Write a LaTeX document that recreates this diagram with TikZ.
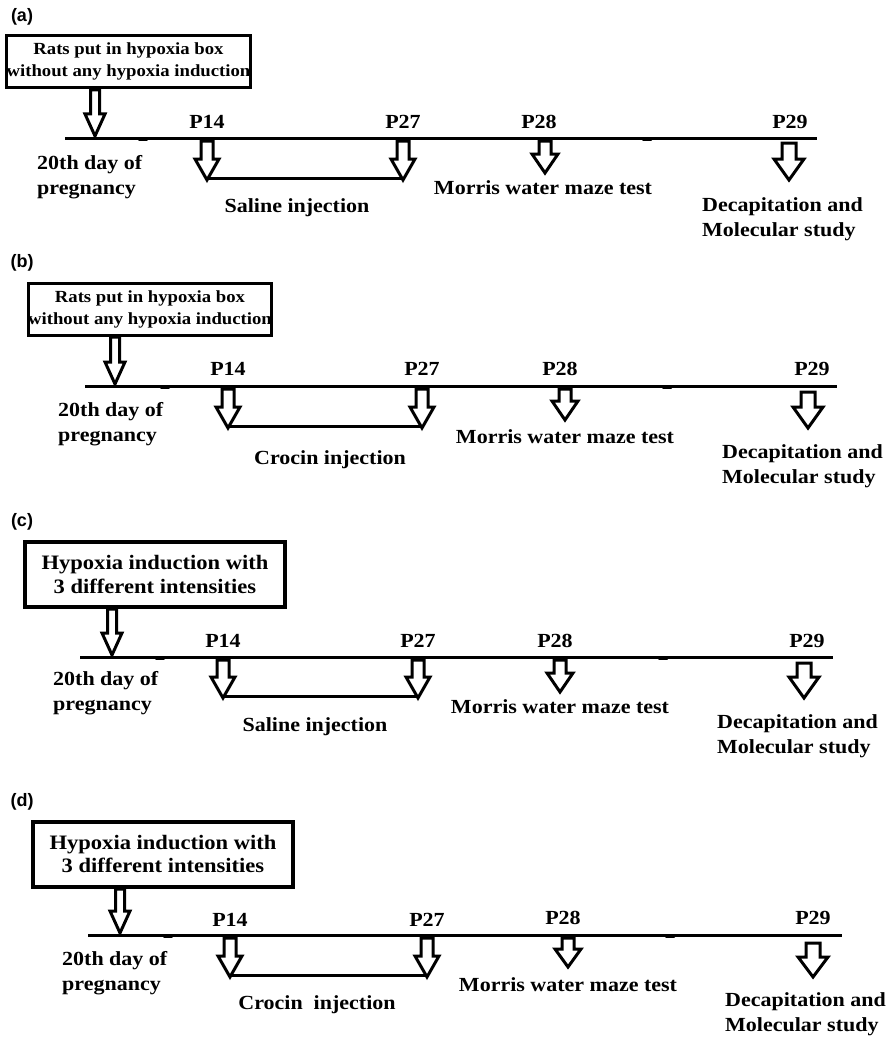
\documentclass[tikz,border=0pt]{standalone}
\usepackage{fontspec}
\setmainfont{Liberation Serif}[FakeStretch=1.1]
\newfontfamily\labfont{Liberation Sans}
\newcommand{\harrow}[6]{%
  \draw[hollow] (#1-#4,#2) -- (#1+#4,#2) -- (#1+#4,#3-#6) -- (#1+#5,#3-#6)
    -- (#1,#3) -- (#1-#5,#3-#6) -- (#1-#4,#3-#6) -- cycle;}
\tikzset{
  tl/.style={line width=3pt},
  tick/.style={line width=2pt, line cap=round},
  hollow/.style={line width=3pt, fill=white, line join=miter},
  txt/.style={inner sep=0pt, font=\fontsize{20}{25}\selectfont\bfseries},
  ltxt/.style={txt, align=left, anchor=west},
  panlab/.style={inner sep=0pt, font=\labfont\fontsize{18}{20}\selectfont\bfseries},
  boxab/.style={draw, line width=3pt, inner sep=0pt, align=center,
    minimum width=236pt, minimum height=52pt,
    font=\fontsize{17}{22}\selectfont\bfseries},
  boxcd/.style={draw, line width=4pt, inner sep=0pt, align=center,
    minimum width=260pt, minimum height=65pt,
    font=\fontsize{20.5}{23.5}\selectfont\bfseries},
}
\begin{document}
\begin{tikzpicture}[x=1pt,y=-1pt]
\useasboundingbox (0,0) rectangle (889,1038);
% ---------------- (a)
\node[panlab] (la) at (22,17) {(a)};
\node[boxab] (ba) at (128.5,61.5) {Rats put in hypoxia box\\without any hypoxia induction};
\draw[tl] (65,138) -- (817,138);
\draw[tick] (139,140) -- (147,140);
\draw[tick] (643,140) -- (651,140);
\harrow{95}{90}{136}{4.5}{10}{22}
\node[txt] (a14) at (207,122) {P14};
\node[txt] (a27) at (403,122) {P27};
\node[txt] (a28) at (539,122) {P28};
\node[txt] (a29) at (790,122) {P29};
\harrow{207}{141}{180}{6}{12}{21}
\harrow{403}{141}{180}{6}{12}{21}
\draw[tl] (207,178.5) -- (403,178.5);
\harrow{545}{141}{173}{6}{13}{19}
\harrow{789}{143}{180}{7}{15}{21}
\node[ltxt] (a20) at (37,177.5) {20th day of\\pregnancy};
\node[txt] (ainj) at (297,208) {Saline injection};
\node[txt] (amwm) at (543,188) {Morris water maze test};
\node[ltxt] (adec) at (702,219.5) {Decapitation and\\Molecular study};
% ---------------- (b)
\node[panlab] (lb) at (22,263) {(b)};
\node[boxab] (bb) at (150,309) {Rats put in hypoxia box\\without any hypoxia induction};
\draw[tl] (85,386) -- (837,386);
\draw[tick] (161,388) -- (169,388);
\draw[tick] (663,388) -- (671,388);
\harrow{115}{337}{384}{4.5}{10}{22}
\node[txt] (b14) at (228,369) {P14};
\node[txt] (b27) at (422,369) {P27};
\node[txt] (b28) at (560,369) {P28};
\node[txt] (b29) at (812,369) {P29};
\harrow{228}{389}{428}{6}{12}{21}
\harrow{422}{389}{428}{6}{12}{21}
\draw[tl] (228,426.5) -- (422,426.5);
\harrow{565}{389}{420}{6}{13}{19}
\harrow{808}{392}{428}{7}{15}{21}
\node[ltxt] (b20) at (58,424.5) {20th day of\\pregnancy};
\node[txt] (binj) at (330,460) {Crocin injection};
\node[txt] (bmwm) at (565,437) {Morris water maze test};
\node[ltxt] (bdec) at (722,466) {Decapitation and\\Molecular study};
% ---------------- (c)
\node[panlab] (lc) at (22,522) {(c)};
\node[boxcd] (bc) at (155,574.5) {Hypoxia induction with\\3 different intensities};
\draw[tl] (80,657) -- (833,657);
\draw[tick] (156,659) -- (164,659);
\draw[tick] (659,659) -- (667,659);
\harrow{112}{609}{655}{4.5}{10}{22}
\node[txt] (c14) at (223,641) {P14};
\node[txt] (c27) at (418,641) {P27};
\node[txt] (c28) at (555,641) {P28};
\node[txt] (c29) at (807,641) {P29};
\harrow{223}{660}{698}{6}{12}{21}
\harrow{418}{660}{698}{6}{12}{21}
\draw[tl] (223,696.5) -- (418,696.5);
\harrow{560}{660}{692}{6}{13}{19}
\harrow{804}{663}{698}{7}{15}{21}
\node[ltxt] (c20) at (53,693.5) {20th day of\\pregnancy};
\node[txt] (cinj) at (315,727) {Saline injection};
\node[txt] (cmwm) at (560,707) {Morris water maze test};
\node[ltxt] (cdec) at (717,736) {Decapitation and\\Molecular study};
% ---------------- (d)
\node[panlab] (ld) at (22,802) {(d)};
\node[boxcd] (bd) at (163,854) {Hypoxia induction with\\3 different intensities};
\draw[tl] (88,935) -- (842,935);
\draw[tick] (164,937) -- (172,937);
\draw[tick] (666,937) -- (674,937);
\harrow{120}{889}{933}{4.5}{10}{22}
\node[txt] (d14) at (230,920) {P14};
\node[txt] (d27) at (427,920) {P27};
\node[txt] (d28) at (563,918) {P28};
\node[txt] (d29) at (813,918) {P29};
\harrow{230}{938}{977}{6}{12}{21}
\harrow{427}{938}{977}{6}{12}{21}
\draw[tl] (230,975.5) -- (427,975.5);
\harrow{568}{938}{967}{6}{13}{18}
\harrow{813}{943}{977}{7}{15}{20}
\node[ltxt] (d20) at (62,973) {20th day of\\pregnancy};
\node[txt] (dinj) at (317,1005) {Crocin\ \ injection};
\node[txt] (dmwm) at (568,985) {Morris water maze test};
\node[ltxt] (ddec) at (725,1014.5) {Decapitation and\\Molecular study};
\end{tikzpicture}
\end{document}
